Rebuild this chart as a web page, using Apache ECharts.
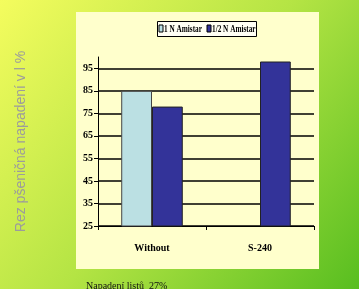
<!DOCTYPE html>
<html>
<head>
<meta charset="utf-8">
<script src="https://cdn.jsdelivr.net/npm/echarts@6/dist/echarts.min.js"></script>
<style>
  html, body {
    margin: 0;
    padding: 0;
  }

  #chart {
    width: 359px;
    height: 289px;
  }
</style>
</head>
<body>
<div id="chart"></div>
<script>
// data
const categories = ["Without", "S-240"];
const seriesNames = ["1 N Amistar", "1/2 N Amistar"];
const fullDose = [85, null];
const halfDose = [78, 98];
const yTicks = [25, 35, 45, 55, 65, 75, 85, 95];

const serif = "'Liberation Serif', 'Times New Roman', serif";
const colors = ["#bbe0e3", "#333399"];

const chart = echarts.init(document.getElementById("chart"));

// legend drawn by hand: the original uses a squeezed bold serif face
function legendItem(i, x) {
  return [
    {
      type: "rect",
      shape: { x: x, y: 25, width: 4, height: 7 },
      style: { fill: colors[i], stroke: "#000", lineWidth: 1 }
    },
    {
      type: "text",
      x: x + 5,
      y: 29,
      scaleX: 0.66,
      style: {
        text: seriesNames[i],
        font: "bold 11px " + serif,
        fill: "#000",
        verticalAlign: "middle"
      }
    }
  ];
}

const option = {
  backgroundColor: new echarts.graphic.LinearGradient(0, 0, 1, 1, [
    { offset: 0, color: "#f4fc5e" },
    { offset: 0.5, color: "#b4e444" },
    { offset: 1, color: "#58be20" }
  ]),
  animation: false,
  graphic: [
    {
      type: "rect",
      z: -1,
      shape: { x: 76, y: 12, width: 243, height: 257 },
      style: { fill: "#ffffcc" }
    },
    {
      type: "rect",
      shape: { x: 157.5, y: 21.5, width: 99, height: 15 },
      style: { fill: "#fffff4", stroke: "#000", lineWidth: 1 }
    },
    ...legendItem(0, 159),
    ...legendItem(1, 207),
    {
      type: "text",
      left: 86,
      top: 281,
      style: {
        text: "Napadení listů  27%",
        font: "10px " + serif,
        fill: "#111"
      }
    }
  ],
  legend: {
    show: false,
    data: seriesNames
  },
  grid: {
    left: 98,
    right: 45,
    top: 57,
    bottom: 63,
    containLabel: false
  },
  xAxis: {
    type: "category",
    data: categories,
    axisLine: { lineStyle: { color: "#000", width: 1 } },
    axisTick: { show: true, length: 4, lineStyle: { color: "#000" } },
    axisLabel: {
      margin: 17,
      fontFamily: serif,
      fontWeight: "bold",
      fontSize: 10,
      color: "#000"
    }
  },
  yAxis: {
    type: "value",
    min: 25,
    max: 100,
    name: "Rez pšeničná napadení v l %",
    nameLocation: "middle",
    nameGap: 70,
    nameTextStyle: {
      fontFamily: "'Liberation Sans', Arial, sans-serif",
      fontSize: 14,
      color: "#9c9c9c"
    },
    axisLine: { show: true, lineStyle: { color: "#000", width: 1 } },
    axisTick: {
      show: true,
      length: 4,
      customValues: yTicks,
      lineStyle: { color: "#000" }
    },
    axisLabel: {
      customValues: yTicks,
      margin: 5,
      fontFamily: serif,
      fontWeight: "bold",
      fontSize: 10,
      color: "#000"
    },
    splitLine: {
      show: true,
      customValues: yTicks,
      lineStyle: { color: "#000", width: 1.5 }
    }
  },
  series: [
    {
      name: seriesNames[0],
      type: "bar",
      data: fullDose,
      barGap: "0%",
      barCategoryGap: "43%",
      itemStyle: {
        color: colors[0],
        borderColor: "#444",
        borderWidth: 1
      }
    },
    {
      name: seriesNames[1],
      type: "bar",
      data: halfDose,
      itemStyle: {
        color: colors[1],
        borderColor: "#222",
        borderWidth: 1
      }
    }
  ]
};

chart.setOption(option);
</script>
</body>
</html>
